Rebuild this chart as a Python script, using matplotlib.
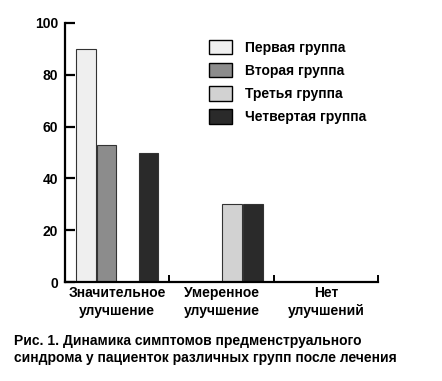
import matplotlib.pyplot as plt
from matplotlib.patches import Patch
import numpy as np

plt.rcParams['font.family'] = ['Liberation Sans', 'DejaVu Sans']

categories = ['Значительное\nулучшение', 'Умеренное\nулучшение', 'Нет\nулучшений']
groups = ['Первая группа', 'Вторая группа', 'Третья группа', 'Четвертая группа']
values = {
    'Первая группа': [90, 0, 0],
    'Вторая группа': [53, 0, 0],
    'Третья группа': [0, 30, 0],
    'Четвертая группа': [50, 30, 0],
}
colors = ['#efefef', '#8c8c8c', '#d2d2d2', '#2a2a2a']
caption = ('Рис. 1. Динамика симптомов предменструального\n'
           'синдрома у пациенток различных групп после лечения')

fig = plt.figure(figsize=(4.42, 3.81), dpi=100)
ax = fig.add_axes([65/442, 1-282/381, (378-65)/442, (282-23)/381])

x = np.arange(len(categories)) + 0.5
step = 0.2
width = 0.187
for i, g in enumerate(groups):
    vals = np.array(values[g])
    pos = x + (i - 1.5) * step
    mask = vals > 0
    ax.bar(pos[mask], vals[mask], width, color=colors[i], edgecolor='#333333', linewidth=0.8)

ax.set_xlim(0, 3)
ax.set_ylim(0, 100)
ax.spines['top'].set_visible(False)
ax.spines['right'].set_visible(False)
ax.spines['left'].set_linewidth(1.6)
ax.spines['bottom'].set_linewidth(1.6)

ax.set_yticks([0, 20, 40, 60, 80, 100])
ax.set_yticklabels(['0', '20', '40', '60', '80', '100'], fontweight='bold')
ax.tick_params(axis='y', direction='in', length=7, width=1.6, labelsize=10, pad=5)
ax.set_xticks([1, 2, 3])
ax.set_xticklabels(['', '', ''])
ax.tick_params(axis='x', which='major', direction='in', length=5, width=1.4)
ax.set_xticks(x, minor=True)
ax.set_xticklabels(categories, minor=True, fontsize=10, linespacing=1.35, fontweight='bold')
ax.tick_params(axis='x', which='minor', length=0, pad=3)

handles = [Patch(facecolor=c, edgecolor='black', linewidth=1) for c in colors]
fig.legend(handles, groups, loc='upper left', bbox_to_anchor=(209/442, 1-40/381),
           frameon=False, prop={'size': 10, 'weight': 'bold'}, handlelength=1.65,
           handleheight=1.2, handletextpad=0.95, labelspacing=0.6, borderpad=0,
           borderaxespad=0)

fig.text(14/442, 1-334/381, caption, fontsize=10, fontweight='bold',
         va='top', ha='left', linespacing=1.25)

fig.savefig('out.png', dpi=100)
